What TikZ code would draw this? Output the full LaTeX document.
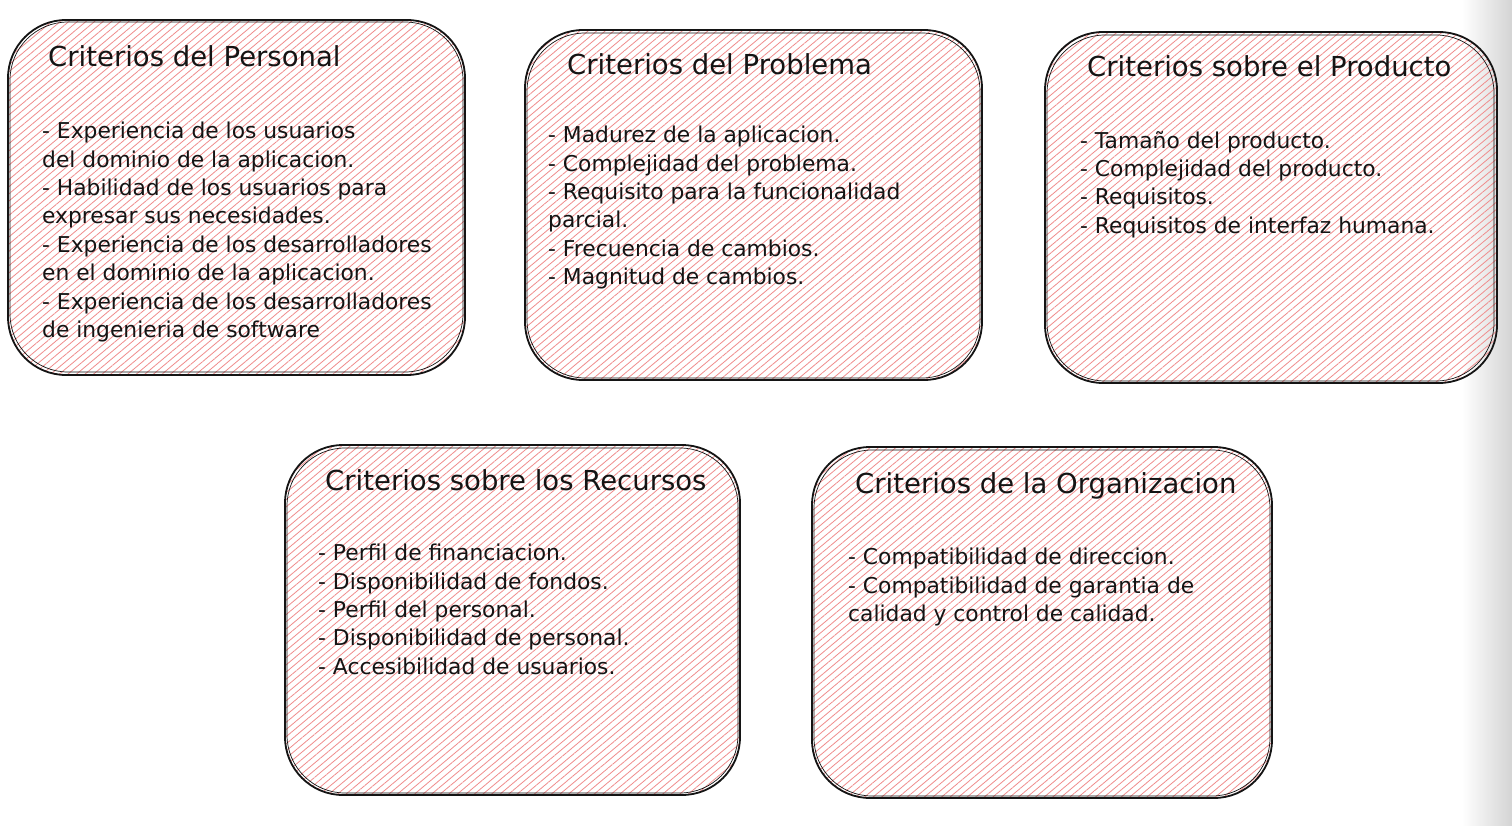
\documentclass[tikz,border=0pt]{standalone}
\usepackage{fontspec}
\setmainfont{DejaVu Sans}
\usetikzlibrary{patterns.meta,positioning}
\definecolor{hatch}{RGB}{240,140,140}
\definecolor{ink}{RGB}{20,20,20}
\tikzset{
  card/.style={draw=ink, line width=1.8pt, rounded corners=58pt,
    pattern={Lines[angle=40,distance=5.5pt,line width=0.8pt]}, pattern color=hatch},
  cardghost/.style={draw=ink, line width=0.7pt, rounded corners=58pt},
  cardtitle/.style={anchor=north west, inner sep=0pt, text=ink,
    font=\fontsize{27.5}{30}\selectfont},
  cardbody/.style={anchor=north west, inner sep=0pt, align=left, text=ink,
    font=\fontsize{21.8}{28.4}\selectfont},
}
\begin{document}
\begin{tikzpicture}[x=1pt,y=-1pt]
\useasboundingbox (0,0) rectangle (1512,826);
\fill[white] (0,0) rectangle (1512,826);
\shade[left color=white, right color=black!17] (1462,0) rectangle (1512,826);

% boxes
\draw[card] (8,20) rectangle (465,375);
\draw[cardghost] (10,22) rectangle (463,372);
\draw[card] (525,30) rectangle (982,380);
\draw[cardghost] (527,33) rectangle (980,378);
\draw[card] (1045,32) rectangle (1497,383);
\draw[cardghost] (1047,35) rectangle (1494,381);
\draw[card] (285,445) rectangle (740,795);
\draw[cardghost] (287,448) rectangle (738,793);
\draw[card] (812,447) rectangle (1272,798);
\draw[cardghost] (814,450) rectangle (1270,796);

% Box 1
\node[cardtitle] (t1) at (48,45) {Criterios del Personal};
\node[cardbody] (b1) at (42,122) {- Experiencia de los usuarios\\del dominio de la aplicacion.\\- Habilidad de los usuarios para\\expresar sus necesidades.\\- Experiencia de los desarrolladores\\en el dominio de la aplicacion.\\- Experiencia de los desarrolladores\\de ingenieria de software};

% Box 2
\node[cardtitle] (t2) at (567,53) {Criterios del Problema};
\node[cardbody] (b2) at (548,126) {- Madurez de la aplicacion.\\- Complejidad del problema.\\- Requisito para la funcionalidad\\parcial.\\- Frecuencia de cambios.\\- Magnitud de cambios.};

% Box 3
\node[cardtitle] (t3) at (1087,55) {Criterios sobre el Producto};
\node[cardbody] (b3) at (1080,131) {- Tamaño del producto.\\- Complejidad del producto.\\- Requisitos.\\- Requisitos de interfaz humana.};

% Box 4
\node[cardtitle] (t4) at (325,469) {Criterios sobre los Recursos};
\node[cardbody] (b4) at (318,544) {- Perfil de financiacion.\\- Disponibilidad de fondos.\\- Perfil del personal.\\- Disponibilidad de personal.\\- Accesibilidad de usuarios.};

% Box 5
\node[cardtitle] (t5) at (855,472) {Criterios de la Organizacion};
\node[cardbody] (b5) at (848,548) {- Compatibilidad de direccion.\\- Compatibilidad de garantia de\\calidad y control de calidad.};
\end{tikzpicture}
\end{document}
